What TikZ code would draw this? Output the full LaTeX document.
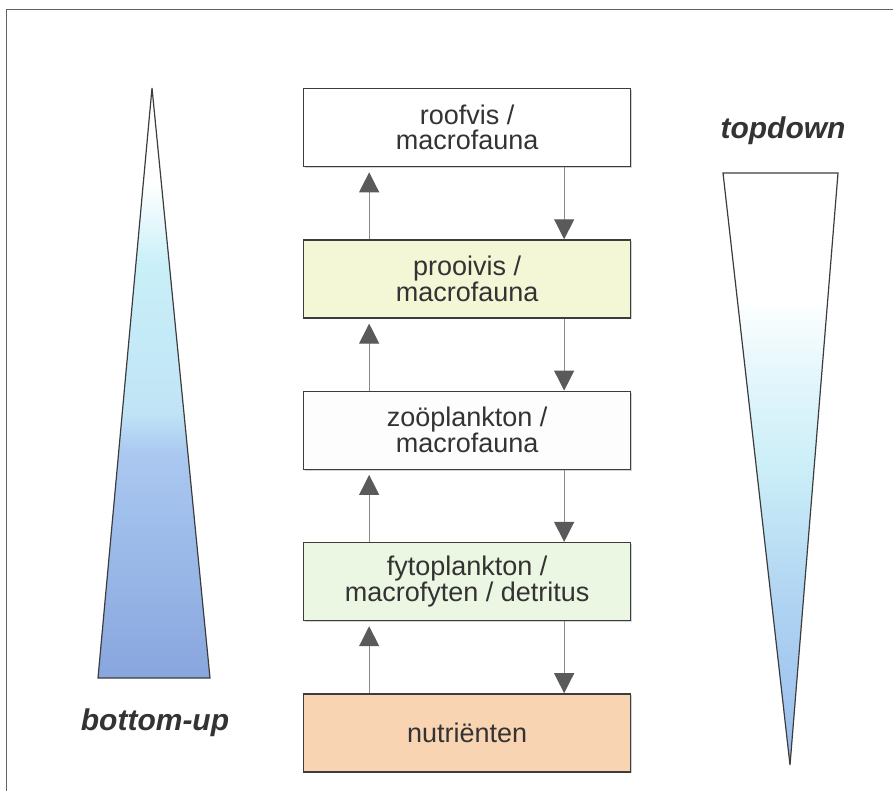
\documentclass[tikz,border=0pt]{standalone}
\usepackage{fontspec}
\setmainfont{Liberation Sans}
\usetikzlibrary{arrows.meta, positioning, shadows}

\definecolor{txtgray}{HTML}{333333}
\definecolor{boxline}{HTML}{3C3C3C}
\definecolor{linegray}{HTML}{8A8A8A}
\definecolor{headgray}{HTML}{5A5A5A}
\definecolor{roofcol}{HTML}{FFFFFF}
\definecolor{prooicol}{HTML}{F4F7D6}
\definecolor{zoocol}{HTML}{FDFDFD}
\definecolor{fytocol}{HTML}{ECF7E3}
\definecolor{nutricol}{HTML}{F8D4B2}

% wedge colours
\definecolor{buCyan}{HTML}{C9EFF8}
\definecolor{buSky}{HTML}{C0E4F6}
\definecolor{buBlue}{HTML}{AAC8F0}
\definecolor{buDeep}{HTML}{88A6DE}
\definecolor{tdPale}{HTML}{E2F6FB}
\definecolor{tdCyan}{HTML}{CBEEF8}
\definecolor{tdSky}{HTML}{B0D4F2}
\definecolor{tdBlue}{HTML}{98BCEC}

% path box spans 25bp--75bp of the shading
\pgfdeclareverticalshading{bottomupshade}{100bp}{color(0bp)=(buDeep); color(25bp)=(buDeep); color(44bp)=(buBlue); color(47.5bp)=(buSky); color(60bp)=(buCyan); color(67bp)=(white); color(100bp)=(white)}
\pgfdeclareverticalshading{topdownshade}{100bp}{color(0bp)=(tdBlue); color(25bp)=(tdBlue); color(39bp)=(tdSky); color(50bp)=(tdCyan); color(57.5bp)=(tdPale); color(64.5bp)=(white); color(100bp)=(white)}

\begin{document}
\begin{tikzpicture}[
    x=1pt, y=-1pt,
    node distance=72pt,
    every node/.style={text=txtgray},
    tier/.style={rectangle, draw=boxline, line width=1.3pt, minimum width=327pt, minimum height=78pt, align=center,
        font=\fontsize{27}{25}\selectfont,
        drop shadow={shadow xshift=1.5pt, shadow yshift=-1.5pt, fill=black!35, opacity=.5}},
    feedup/.style={draw=linegray, line width=1.2pt, -{Triangle[length=20pt, width=20pt, color=headgray]}, shorten >=5pt},
    feeddown/.style={draw=linegray, line width=1.2pt, -{Triangle[length=20pt, width=20pt, color=headgray]}},
    wedge/.style={draw=boxline, line width=1.2pt},
    flowlabel/.style={font=\fontsize{30}{30}\bfseries\itshape\selectfont}
]
\useasboundingbox (0,0) rectangle (893,791);

% frame
\draw[boxline!80, line width=1pt] (893,10) -- (6,10) -- (6,791);

% ============ FOOD CHAIN (CENTRE) ============
\node[tier, fill=roofcol, anchor=north west] (roofvis) at (303,88) {roofvis /\\macrofauna};
\node[tier, fill=prooicol, below=of roofvis] (prooivis) {prooivis /\\macrofauna};
\node[tier, fill=zoocol, below=of prooivis] (zoo) {zoöplankton /\\macrofauna};
\node[tier, fill=fytocol, below=of zoo] (fyto) {fytoplankton /\\macrofyten / detritus};
\node[tier, fill=nutricol, below=of fyto] (nutri) {nutriënten};

% bottom-up arrows
\draw[feedup] ([xshift=-98pt]nutri.north) -- ([xshift=-98pt]fyto.south);
\draw[feedup] ([xshift=-98pt]fyto.north) -- ([xshift=-98pt]zoo.south);
\draw[feedup] ([xshift=-98pt]zoo.north) -- ([xshift=-98pt]prooivis.south);
\draw[feedup] ([xshift=-98pt]prooivis.north) -- ([xshift=-98pt]roofvis.south);

% top-down arrows
\draw[feeddown] ([xshift=97pt]roofvis.south) -- ([xshift=97pt]prooivis.north);
\draw[feeddown] ([xshift=97pt]prooivis.south) -- ([xshift=97pt]zoo.north);
\draw[feeddown] ([xshift=97pt]zoo.south) -- ([xshift=97pt]fyto.north);
\draw[feeddown] ([xshift=97pt]fyto.south) -- ([xshift=97pt]nutri.north);

% ============ CONTROL WEDGES ============
% bottom-up
\shadedraw[wedge, shading=bottomupshade] (152,88) -- (210,678) -- (98,678) -- cycle;
\node[flowlabel] (bottomup) at (155,723) {bottom-up};

% topdown
\shadedraw[wedge, shading=topdownshade] (723,173) -- (838,173) -- (790,765) -- cycle;
\node[flowlabel] (topdown) at (783,131) {topdown};

\end{tikzpicture}
\end{document}
